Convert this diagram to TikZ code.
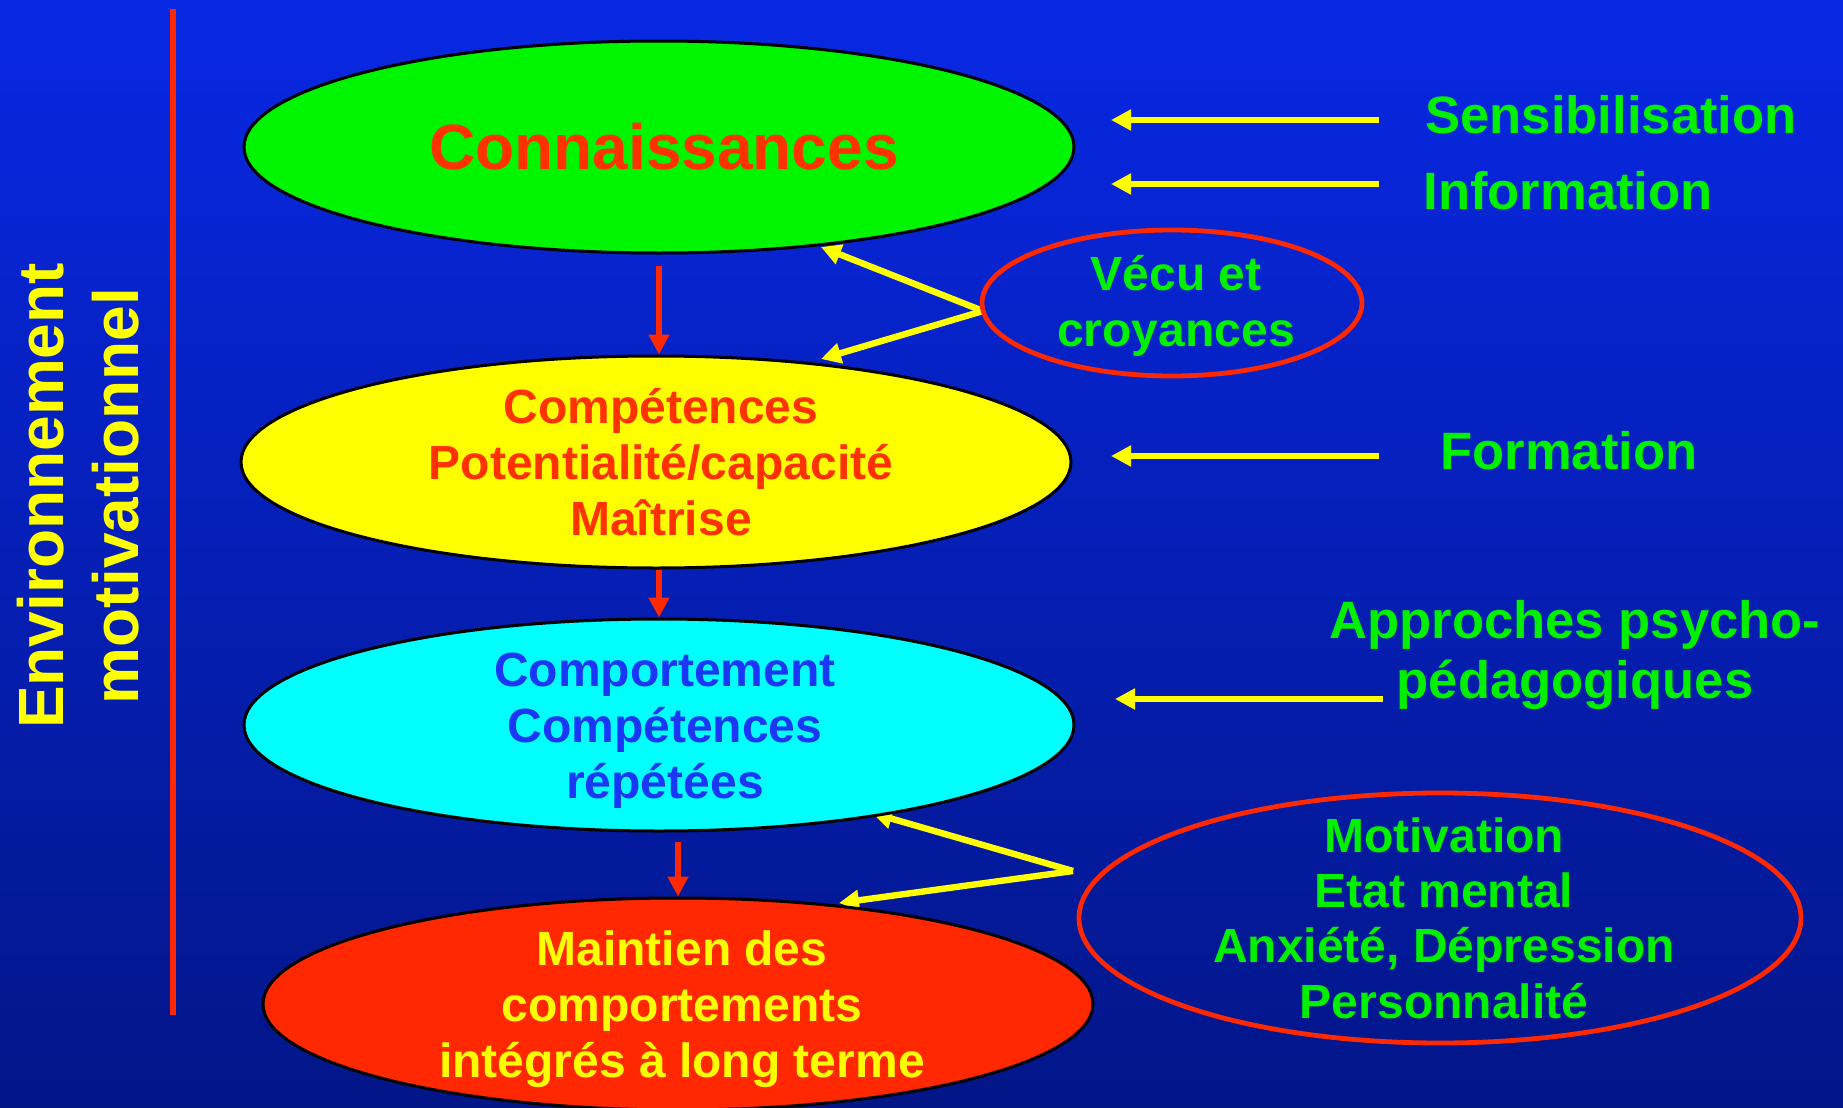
\documentclass[tikz,border=0pt]{standalone}
\usepackage{fontspec}
\setmainfont{Liberation Sans}
\usetikzlibrary{shapes.geometric,arrows.meta}
\definecolor{bgtop}{RGB}{8,40,228}
\definecolor{bgbot}{RGB}{2,22,136}
\definecolor{lgreen}{RGB}{0,245,0}
\definecolor{tgreen}{RGB}{0,240,0}
\definecolor{ored}{RGB}{255,40,0}
\definecolor{tred}{RGB}{255,50,0}
\definecolor{tblue}{RGB}{25,55,245}
\definecolor{lcyan}{RGB}{0,255,255}
\definecolor{lyellow}{RGB}{255,255,0}
\pgfdeclarelayer{bg}
\pgfdeclarelayer{arr}
\pgfsetlayers{bg,arr,main}
\begin{document}
\begin{tikzpicture}[x=0.5pt,y=-0.5pt,
  ell/.style={ellipse, draw=black, line width=1.5pt, inner sep=0pt,
    minimum width=415pt, minimum height=106pt},
  oval/.style={ellipse, draw=ored, line width=2.4pt, inner sep=0pt},
  etxt/.style={align=center, inner sep=0pt, font=\bfseries\fontsize{24}{28}\selectfont},
  lbl/.style={text=tgreen, inner sep=0pt, font=\bfseries\fontsize{26.3}{30}\selectfont},
  yarr/.style={draw=lyellow, line width=3.2pt, -{Triangle[length=10pt,width=10pt]}},
  rarr/.style={draw=ored, line width=3.4pt, -{Triangle[length=10pt,width=10pt]}}]
\useasboundingbox (0,0) rectangle (1843,1108);
\begin{pgfonlayer}{bg}
\shade[top color=bgtop, bottom color=bgbot] (0,0) rectangle (1843,1108);
\end{pgfonlayer}

% left vertical line and title
\coordinate (vl1) at (173,9);
\coordinate (vl2) at (173,1015);
\draw[ored, line width=3pt] (vl1) -- (vl2);
\node[rotate=90, align=center, text=lyellow, inner sep=0pt,
  font=\bfseries\fontsize{32}{37.5}\selectfont] (env) at (78,496)
  {Environnement\\motivationnel};

% main ellipses
\node[ell, fill=lgreen] (conn) at (659,147) {};
\node[ell, fill=lyellow] (comp) at (656,462) {};
\node[ell, fill=lcyan] (compor) at (659,725) {};
\node[ell, fill=ored] (maint) at (678,1004) {};
\node[etxt, text=tred, font=\bfseries\fontsize{32}{38}\selectfont] (conntxt) at (664,147) {Connaissances};
\node[etxt, text=tred] (comptxt) at (661,462) {Compétences\\Potentialité/capacité\\Maîtrise};
\node[etxt, text=tblue] (comportxt) at (665,731) {Comportement\\Compétences\\répétées};
\node[etxt, text=lyellow] (mainttxt) at (682,1009) {Maintien des\\comportements\\intégrés à long terme};

% side ovals
\node[oval, minimum width=190pt, minimum height=73pt] (vecu) at (1172,303) {};
\node[etxt, text=tgreen] (vecutxt) at (1176,306) {Vécu et\\croyances};
\node[oval, minimum width=361pt, minimum height=125pt] (motiv) at (1440,918) {};
\node[etxt, text=tgreen, font=\bfseries\fontsize{24}{27.7}\selectfont] (motivtxt) at (1444,918) {Motivation\\Etat mental\\Anxiété, Dépression\\Personnalité};

% right labels
\node[lbl, anchor=west] (sens) at (1425,115) {Sensibilisation};
\node[lbl, anchor=west] (info) at (1423,191) {Information};
\node[lbl, anchor=west] (form) at (1440,451) {Formation};
\node[lbl, align=center] (appr) at (1575,655) {Approches psycho-\\pédagogiques};

% red arrows
\draw[rarr, shorten <=5.5pt] (conn.south) -- (conn.south |- comp.north);
\draw[rarr] (compor.north |- comp.south) -- (compor.north);
\draw[rarr, shorten <=4.5pt] (maint.north |- compor.south) -- (maint.north);

% yellow arrows
\coordinate (s1) at (1379,120); \coordinate (s2) at (1111,120);
\coordinate (i1) at (1379,184); \coordinate (i2) at (1111,184);
\coordinate (f1) at (1379,456); \coordinate (f2) at (1111,456);
\coordinate (p1) at (1383,699); \coordinate (p2) at (1115,699);
\coordinate (vs) at (983,311);
\coordinate (vt1) at (821,247);
\coordinate (vt2) at (821,359);
\coordinate (ms) at (1073,871);
\coordinate (mt1) at (872,813);
\coordinate (mt2) at (839,903);
\begin{pgfonlayer}{arr}
\draw[yarr] (s1) -- (s2);
\draw[yarr] (i1) -- (i2);
\draw[yarr] (f1) -- (f2);
\draw[yarr] (p1) -- (p2);
\draw[yarr] (vs) -- (vt1);
\draw[yarr] (vs) -- (vt2);
\draw[yarr] (ms) -- (mt1);
\draw[yarr] (ms) -- (mt2);
\end{pgfonlayer}
\end{tikzpicture}
\end{document}
